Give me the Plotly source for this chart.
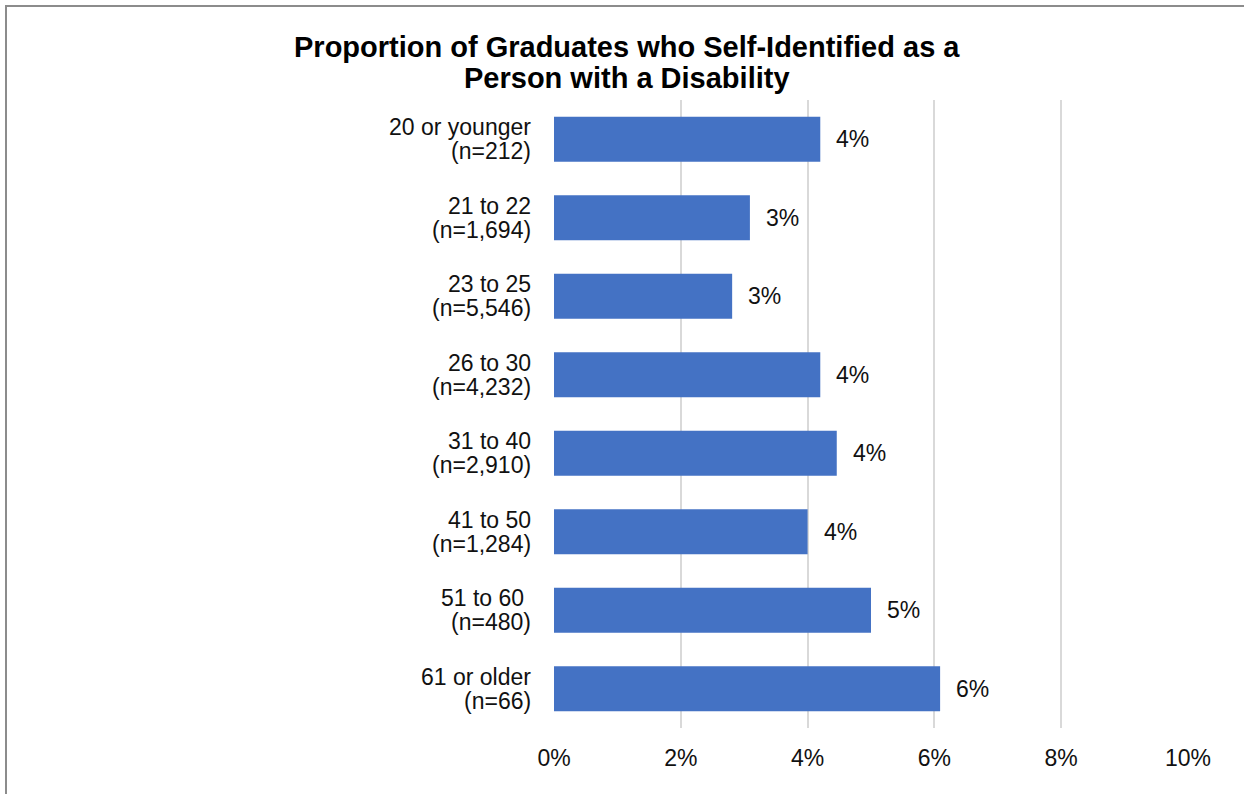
import plotly.graph_objects as go

# Age groups (top to bottom) and sample sizes
age_groups = ["20 or younger", "21 to 22", "23 to 25", "26 to 30",
              "31 to 40", "41 to 50", "51 to 60\u00a0", "61 or older"]
sample_sizes = ["(n=212)", "(n=1,694)", "(n=5,546)", "(n=4,232)",
                "(n=2,910)", "(n=1,284)", "(n=480)", "(n=66)"]
# Share of graduates who self-identified as a person with a disability
shares = [0.042, 0.0309, 0.0281, 0.042, 0.0446, 0.040, 0.050, 0.0609]

x_ticks = [0, 0.02, 0.04, 0.06, 0.08, 0.10]

W, H = 1244, 794
L, R, T, B = 554, 56, 100, 66
plot_w, plot_h = W - L - R, H - T - B


def px_x(px):
    return (px - L) / plot_w


def px_y(py):
    return (H - B - py) / plot_h


FONT = "Arial, Liberation Sans, sans-serif"
TEXT = "#111111"
SIZE = 23

fig = go.Figure()
fig.add_trace(go.Bar(
    x=shares,
    y=age_groups,
    orientation="h",
    marker=dict(color="#4472C4", line=dict(width=0)),
    hoverinfo="skip",
))

annotations = []
# Two-line category labels to the left of the bars
for cat, n in zip(age_groups, sample_sizes):
    for line, shift in ((cat, 12), (n, -12)):
        annotations.append(dict(
            x=0, xref="paper", y=cat, yref="y", text=line,
            xanchor="right", yanchor="middle", xshift=-21, yshift=shift,
            showarrow=False, font=dict(family=FONT, size=SIZE, color=TEXT),
        ))
# Value labels just past the end of each bar
for cat, v in zip(age_groups, shares):
    annotations.append(dict(
        x=v, xref="x", y=cat, yref="y", text=f"{v:.0%}",
        xanchor="left", yanchor="middle", xshift=14,
        showarrow=False, font=dict(family=FONT, size=SIZE, color=TEXT),
    ))
# Chart title, two centred lines
for text, py in (("Proportion of Graduates who Self-Identified as a", 47),
                 ("Person with a Disability", 78)):
    annotations.append(dict(
        x=px_x(627), xref="paper", y=px_y(py), yref="paper",
        text=f"<b>{text}</b>", xanchor="center", yanchor="middle",
        showarrow=False, font=dict(family=FONT, size=29, color="#000000"),
    ))

fig.update_layout(
    width=W, height=H, autosize=False,
    margin=dict(l=L, r=R, t=T, b=B, pad=0),
    paper_bgcolor="white", plot_bgcolor="white",
    showlegend=False,
    bargap=0.427,
    annotations=annotations,
    shapes=[dict(
        type="rect", xref="paper", yref="paper",
        x0=px_x(6), x1=px_x(1260), y0=px_y(810), y1=px_y(6),
        line=dict(color="#8c8c8c", width=2), fillcolor="rgba(0,0,0,0)",
        layer="above",
    )],
    xaxis=dict(
        range=[0, 0.10], tickvals=x_ticks, tickformat=".0%",
        showgrid=True, gridcolor="#d9d9d9", gridwidth=2,
        zeroline=False, showline=False,
        ticks="outside", ticklen=9, tickcolor="rgba(0,0,0,0)",
        tickfont=dict(family=FONT, size=SIZE, color=TEXT),
        fixedrange=True,
    ),
    yaxis=dict(
        autorange="reversed", showticklabels=False, showgrid=False,
        zeroline=False, showline=False, fixedrange=True,
    ),
)

fig.write_html("out.html")
